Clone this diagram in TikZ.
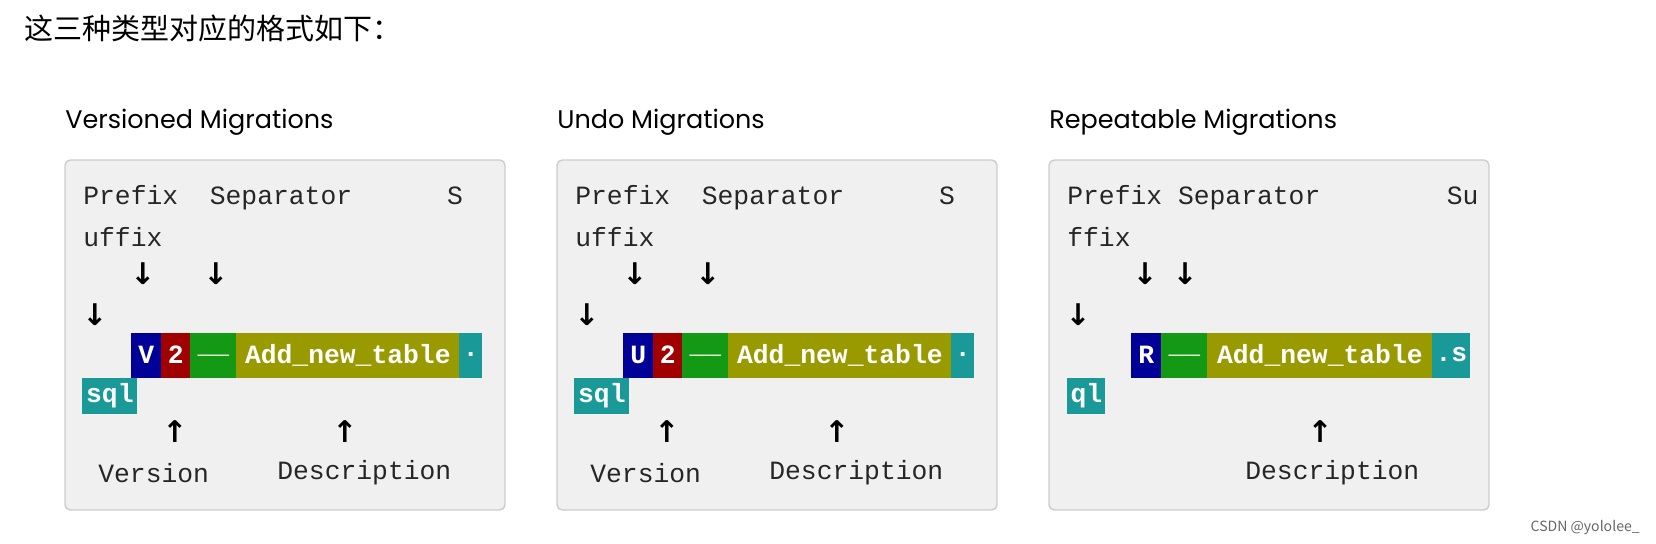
\documentclass[tikz,border=0pt]{standalone}
\usepackage{fontspec}
\setmainfont{Liberation Sans}
\setmonofont{Liberation Mono}
\newfontfamily\cjk{Noto Sans CJK SC}
\newfontfamily\titlefont{Poppins}
\newfontfamily\arrowfont{DejaVu Sans}
\definecolor{panelbg}{HTML}{F0F0F0}
\definecolor{panelline}{HTML}{CCCCCC}
\definecolor{segblue}{HTML}{000099}
\definecolor{segred}{HTML}{A00000}
\definecolor{seggreen}{HTML}{149914}
\definecolor{segolive}{HTML}{999900}
\definecolor{segteal}{HTML}{1A9999}
\begin{document}
\begin{tikzpicture}[
    x=0.02cm, y=-0.02cm,
    panel/.style={
        draw=panelline,
        fill=panelbg,
        rounded corners=3pt,
        line width=0.8pt
    },
    heading/.style={
        anchor=west,
        inner sep=0pt,
        font=\titlefont\fontsize{14.5}{16}\selectfont
    },
    mono/.style={
        anchor=west,
        inner sep=0pt,
        text=black!85,
        font=\ttfamily\fontsize{15}{18}\selectfont
    },
    pointer/.style={
        inner sep=0pt,
        font=\arrowfont\bfseries\fontsize{17}{20}\selectfont
    },
    seg/.style={
        anchor=west,
        inner sep=0pt,
        minimum height=45*0.02cm,
        text=white,
        font=\ttfamily\bfseries\fontsize{15}{18}\selectfont
    }
]
\useasboundingbox (0,0) rectangle (1656,544);

% Kopfzeile
\node[anchor=west, inner sep=0pt, font=\cjk\fontsize{16.5}{20}\selectfont] (intro) at (24,28)
    {这三种类型对应的格式如下：};

% Versioned
\node[heading] (vtitle) at (65,122) {Versioned Migrations};
\draw[panel] (65,160) rectangle (505,510);
\node[mono] (vline1) at (83,198) {Prefix\ \ Separator\ \ \ \ \ \ S};
\node[mono] (vline2) at (83,237) {uffix};
\node[pointer] (vdown1) at (143,274) {↓};
\node[pointer] (vdown2) at (216,274) {↓};
\node[pointer] (vdown3) at (95,315) {↓};
\node[seg, fill=segblue, minimum width=30*0.02cm] (vpre) at (131,355) {V};
\node[seg, fill=segred, minimum width=29*0.02cm] (vver) at (161,355) {2};
\node[seg, fill=seggreen, minimum width=46*0.02cm] (vsep) at (190,355) {\_\_};
\node[seg, fill=segolive, minimum width=223*0.02cm] (vdesc) at (236,355) {Add\_new\_table};
\node[seg, fill=segteal, minimum width=23*0.02cm] (vsuf) at (459,355) {.};
\node[seg, fill=segteal, minimum width=55*0.02cm, minimum height=36*0.02cm] (vsql) at (82,396) {sql};
\node[pointer] (vup1) at (175,432) {↑};
\node[pointer] (vup2) at (345,432) {↑};
\node[mono] (vversion) at (98,473) {Version};
\node[mono] (vdescr) at (277,473) {Description};

% Undo
\node[heading] (utitle) at (557,122) {Undo Migrations};
\draw[panel] (557,160) rectangle (997,510);
\node[mono] (uline1) at (575,198) {Prefix\ \ Separator\ \ \ \ \ \ S};
\node[mono] (uline2) at (575,237) {uffix};
\node[pointer] (udown1) at (635,274) {↓};
\node[pointer] (udown2) at (708,274) {↓};
\node[pointer] (udown3) at (587,315) {↓};
\node[seg, fill=segblue, minimum width=30*0.02cm] (upre) at (623,355) {U};
\node[seg, fill=segred, minimum width=29*0.02cm] (uver) at (653,355) {2};
\node[seg, fill=seggreen, minimum width=46*0.02cm] (usep) at (682,355) {\_\_};
\node[seg, fill=segolive, minimum width=223*0.02cm] (udesc) at (728,355) {Add\_new\_table};
\node[seg, fill=segteal, minimum width=23*0.02cm] (usuf) at (951,355) {.};
\node[seg, fill=segteal, minimum width=55*0.02cm, minimum height=36*0.02cm] (usql) at (574,396) {sql};
\node[pointer] (uup1) at (667,432) {↑};
\node[pointer] (uup2) at (837,432) {↑};
\node[mono] (uversion) at (590,473) {Version};
\node[mono] (udescr) at (769,473) {Description};

% Repeatable
\node[heading] (rtitle) at (1049,122) {Repeatable Migrations};
\draw[panel] (1049,160) rectangle (1489,510);
\node[mono] (rline1) at (1067,198) {Prefix Separator\ \ \ \ \ \ \ \ Su};
\node[mono] (rline2) at (1067,237) {ffix};
\node[pointer] (rdown1) at (1145,274) {↓};
\node[pointer] (rdown2) at (1185,274) {↓};
\node[pointer] (rdown3) at (1078,315) {↓};
\node[seg, fill=segblue, minimum width=30*0.02cm] (rpre) at (1131,355) {R};
\node[seg, fill=seggreen, minimum width=46*0.02cm] (rsep) at (1161,355) {\_\_};
\node[seg, fill=segolive, minimum width=225*0.02cm] (rdesc) at (1207,355) {Add\_new\_table};
\node[seg, fill=segteal, minimum width=38*0.02cm] (rsuf) at (1432,355) {.s};
\node[seg, fill=segteal, minimum width=38*0.02cm, minimum height=36*0.02cm] (rsql) at (1067,396) {ql};
\node[pointer] (rup1) at (1320,432) {↑};
\node[mono] (rdescr) at (1245,473) {Description};

% Wasserzeichen
\node[anchor=east, inner sep=0pt, text=black!60, font=\cjk\fontsize{8}{10}\selectfont] (mark) at (1640,528) {CSDN @yololee\_};
\end{tikzpicture}
\end{document}
